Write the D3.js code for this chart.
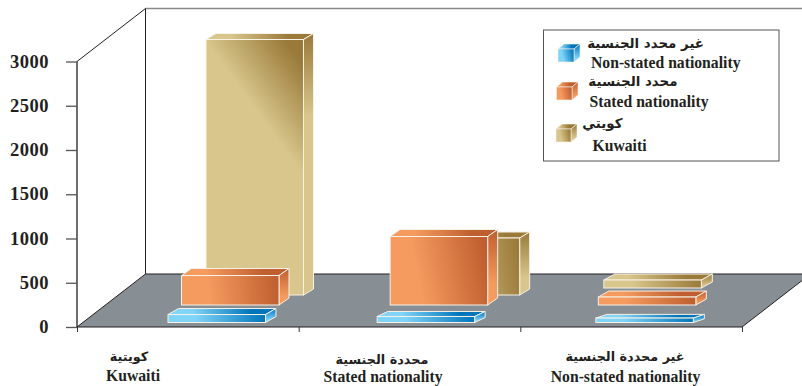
<!DOCTYPE html>
<html><head><meta charset="utf-8">
<script src="https://cdn.jsdelivr.net/npm/d3@7"></script>
<style>
html,body{margin:0;padding:0;background:#fff;overflow:hidden}
svg{display:block}
text{font-family:"Liberation Serif","DejaVu Sans",serif;font-weight:bold;fill:#231f20}
.ar{font-family:"DejaVu Sans",sans-serif;font-weight:bold}
</style></head><body>
<svg id="c" width="802" height="386"></svg>
<script>
// ---- data ----
const categoriesEn = ["Kuwaiti", "Stated nationality", "Non-stated nationality"];
const categoriesAr = ["كويتية", "محددة الجنسية", "غير محددة الجنسية"];
const seriesEn = ["Non-stated nationality", "Stated nationality", "Kuwaiti"];
const seriesAr = ["غير محدد الجنسية", "محدد الجنسية", "كويتي"];
const nonStatedValues = [90, 68, 50];
const statedValues = [333, 774, 90];
const kuwaitiValues = [2887, 644, 90];
const yTicks = [0, 500, 1000, 1500, 2000, 2500, 3000];

// ---- layout ----
const W = 802, H = 386;
const x = d3.scaleLinear().domain([0, 3]).range([77, 742]);
const y = d3.scaleLinear().domain([0, 3000]).range([327, 61.5]);
const wall = {dx: 68.5, dy: 53};
const barW = 97.5;
// per-series placement offsets on the floor
const placements = {
  nonStated: {dx: [91, 78.5, 75.5], lift: [4.5, 4.5, 4.5], depth: [10.5, 10.5, 11], rise: [6, 5, 3.7]},
  stated:    {dx: [104.5, 91.5, 78], lift: [22, 22, 22], depth: [10, 10, 10.5], rise: [7, 7, 6]},
  kuwaiti:   {dx: [129, 123.5, 83.5], lift: [32, 32, 39], depth: [10, 10, 11], rise: [6, 6, 6]}
};
const palette = {
  nonStated: {light: "#7FD4F8", dark: "#0075BC"},
  stated:    {light: "#F59B5F", dark: "#BF5E2E"},
  kuwaiti:   {light: "#D8C68C", dark: "#9A7A39"}
};
const seriesList = [
  {key: "kuwaiti", values: kuwaitiValues},
  {key: "stated", values: statedValues},
  {key: "nonStated", values: nonStatedValues}
];

const svg = d3.select("#c");
const defs = svg.append("defs");
let gid = 0;
function grad(x1, y1, x2, y2, stops) {
  const id = "g" + (gid++);
  const g = defs.append("linearGradient").attr("id", id).attr("gradientUnits", "userSpaceOnUse")
    .attr("x1", x1).attr("y1", y1).attr("x2", x2).attr("y2", y2);
  stops.forEach(s => g.append("stop").attr("offset", s[0]).attr("stop-color", s[1]));
  return `url(#${id})`;
}
function cube(g, key, fx, fy, w, h, d, r, sw) {
  const c = palette[key];
  const stroke = "#f7f1e6";
  const tall = h > 100;
  const frontFill = tall
    ? grad(fx + w * 0.5, fy + h * 0.27, fx + w * 1.04, fy + h * 0.12, [[0, c.light], [1, c.dark]])
    : grad(fx + w * 0.28, fy + h * 0.55, fx + w, fy + h * 0.35, [[0, c.light], [1, c.dark]]);
  g.append("path").attr("d", `M${fx},${fy}L${fx + d},${fy - r}H${fx + w + d}L${fx + w},${fy}Z`)
    .attr("fill", grad(fx + w * 0.25, 0, fx + w * 0.85, 0, [[0, c.light], [1, c.dark]]))
    .attr("stroke", stroke).attr("stroke-width", sw);
  g.append("path").attr("d", `M${fx + w},${fy}L${fx + w + d},${fy - r}V${fy + h - r}L${fx + w},${fy + h}Z`)
    .attr("fill", grad(0, fy - r, 0, fy + Math.max(h * (tall ? 0.3 : 0.7), 4), [[0, c.dark], [1, c.light]]))
    .attr("stroke", stroke).attr("stroke-width", sw);
  g.append("rect").attr("x", fx).attr("y", fy).attr("width", w).attr("height", h)
    .attr("fill", frontFill).attr("stroke", stroke).attr("stroke-width", sw);
}

// floor
svg.append("path")
  .attr("d", `M${x(0)},${y(0)}L${x(0) + wall.dx},${y(0) - wall.dy}H${W}V${y(0) - (W - x(3)) * wall.dy / wall.dx}L${x(3)},${y(0)}Z`)
  .attr("fill", "#878E94");
// wall frame
svg.append("line").attr("x1", x(0) + wall.dx).attr("x2", W).attr("y1", y(3000) - wall.dy).attr("y2", y(3000) - wall.dy)
  .attr("stroke", "#8a8a8a").attr("stroke-width", 1.5);
svg.append("line").attr("x1", x(0)).attr("x2", x(0) + wall.dx).attr("y1", y(3000)).attr("y2", y(3000) - wall.dy)
  .attr("stroke", "#231f20").attr("stroke-width", 1);
svg.append("line").attr("x1", x(0) + wall.dx).attr("x2", x(0) + wall.dx).attr("y1", y(3000) - wall.dy).attr("y2", y(0) - wall.dy)
  .attr("stroke", "#231f20").attr("stroke-width", 1);
svg.append("line").attr("x1", x(0) + wall.dx).attr("x2", W).attr("y1", y(0) - wall.dy).attr("y2", y(0) - wall.dy)
  .attr("stroke", "#231f20").attr("stroke-width", 1);
svg.append("line").attr("x1", x(0)).attr("x2", x(0) + wall.dx).attr("y1", y(0)).attr("y2", y(0) - wall.dy)
  .attr("stroke", "#231f20").attr("stroke-width", 1);
svg.append("line").attr("x1", x(3)).attr("x2", W).attr("y1", y(0)).attr("y2", y(0) - (W - x(3)) * wall.dy / wall.dx)
  .attr("stroke", "#231f20").attr("stroke-width", 1);

// bars
const bars = svg.append("g");
seriesList.forEach(s => {
  const p = placements[s.key];
  s.values.forEach((v, i) => {
    const h = y(0) - y(v);
    const base = y(0) - p.lift[i];
    cube(bars, s.key, x(i) + p.dx[i], base - h, barW, h, p.depth[i], p.rise[i], 1);
  });
});

// axes
const yAxis = svg.append("g").attr("transform", `translate(${x(0)},0)`)
  .call(d3.axisLeft(y).tickValues(yTicks).tickFormat(d3.format("d")).tickSize(11).tickPadding(17));
yAxis.select(".domain").attr("stroke", "#231f20").attr("stroke-width", 1.3).attr("d", `M0,${y(3000)}V${y(0)}`);
yAxis.selectAll(".tick line").attr("stroke", "#555").attr("stroke-width", 1.3);
yAxis.selectAll("text").attr("dy", "0.3em").style("font-family", '"Liberation Serif",serif').style("font-weight", "bold")
  .style("font-size", "18.5px").style("letter-spacing", "0.5px").attr("fill", "#231f20");

const xAxis = svg.append("g").attr("transform", `translate(0,${y(0)})`)
  .call(d3.axisBottom(x).tickValues([0, 1, 2, 3]).tickFormat("").tickSize(5));
xAxis.select(".domain").attr("stroke", "#231f20").attr("stroke-width", 1.2).attr("d", `M${x(0)},0H${x(3)}`);
xAxis.selectAll(".tick line").attr("stroke", "#333");

// category labels
const catLabelPos = [
  {cx: 133, arCx: 129, arY: 361, enY: 381},
  {cx: 383, arCx: 382, arY: 364, enY: 381.5},
  {cx: 625.5, arCx: 625, arY: 361, enY: 381.5}
];
categoriesEn.forEach((t, i) => {
  const p = catLabelPos[i];
  svg.append("text").attr("class", "ar").attr("x", p.arCx).attr("y", p.arY).attr("text-anchor", "middle")
    .attr("font-size", 12.8).text(categoriesAr[i]);
  svg.append("text").attr("x", p.cx).attr("y", p.enY).attr("text-anchor", "middle")
    .attr("font-size", 15.7).text(t);
});

// legend
svg.append("rect").attr("x", 543.5).attr("y", 30).attr("width", 235.5).attr("height", 131)
  .attr("fill", "#fff").attr("stroke", "#555").attr("stroke-width", 1);
const legendPos = [
  {key: "nonStated", cx: 558, cy: 49, cw: 16, ch: 13, ax: 704, ay: 48, ex: 591, ey: 68},
  {key: "stated", cx: 556.5, cy: 87, cw: 15.5, ch: 13, ax: 677.5, ay: 86, ex: 589.5, ey: 107},
  {key: "kuwaiti", cx: 556, cy: 129, cw: 15, ch: 13, ax: 622.5, ay: 128, ex: 592.5, ey: 151}
];
legendPos.forEach((p, i) => {
  cube(svg.append("g"), p.key, p.cx, p.cy, p.cw, p.ch, 6, 5, 0.6);
  svg.append("text").attr("class", "ar").attr("x", p.ax).attr("y", p.ay).attr("text-anchor", "end")
    .attr("font-size", 13.4).text(seriesAr[i]);
  svg.append("text").attr("x", p.ex).attr("y", p.ey).attr("font-size", 15.7).text(seriesEn[i]);
});
</script>
</body></html>
